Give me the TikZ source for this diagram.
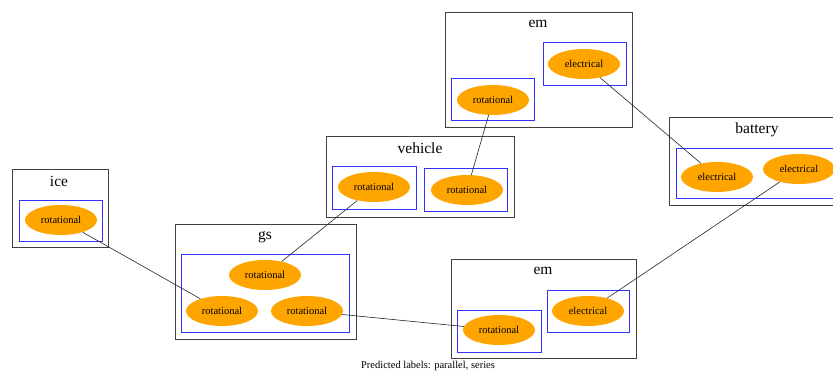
\documentclass[tikz,border=0pt]{standalone}
\usepackage{fontspec}
\setmainfont{Liberation Serif}
\usetikzlibrary{shapes.geometric}
\definecolor{gvorange}{HTML}{FFA500}
\definecolor{gvblue}{HTML}{0000FF}
\begin{document}
\begin{tikzpicture}[x=1pt,y=-1pt,
  outerbox/.style={draw=black!75,line width=0.8pt,rectangle,inner sep=0pt},
  bluebox/.style={draw=gvblue!80,line width=0.7pt,rectangle,inner sep=0pt},
  port/.style={ellipse,fill=gvorange,draw=none,minimum width=72pt,minimum height=30pt,inner sep=0pt,font=\fontsize{10.5}{12}\selectfont},
  clabel/.style={inner sep=0pt,font=\fontsize{15.5}{18}\selectfont},
  conn/.style={draw=black!85,line width=0.6pt}]
\useasboundingbox (0,0) rectangle (833,372);
\clip (0,0) rectangle (833,372);
% ice
\node[outerbox,minimum width=96pt,minimum height=78pt] (iceC) at (60,208) {};
\node[clabel] (iceL) at (59,181) {ice};
\node[bluebox,minimum width=83pt,minimum height=41pt] (iceB) at (60.5,220.5) {};
\node[port] (iceR) at (61,220) {rotational};
% gs
\node[outerbox,minimum width=181pt,minimum height=115pt] (gsC) at (265.5,281.5) {};
\node[clabel] (gsL) at (265,237) {gs};
\node[bluebox,minimum width=168pt,minimum height=78pt] (gsB) at (265,293) {};
\node[port] (gsT) at (265,275) {rotational};
\node[port] (gsBL) at (222,311) {rotational};
\node[port] (gsBR) at (307,311) {rotational};
% vehicle
\node[outerbox,minimum width=188pt,minimum height=81pt] (vehC) at (420,176.5) {};
\node[clabel] (vehL) at (420,148) {vehicle};
\node[bluebox,minimum width=84pt,minimum height=43pt] (vehBL) at (374,187.5) {};
\node[bluebox,minimum width=83pt,minimum height=43pt] (vehBR) at (465.5,189.5) {};
\node[port] (vehRL) at (374,187) {rotational};
\node[port] (vehRR) at (467,190) {rotational};
% em top
\node[outerbox,minimum width=187pt,minimum height=115pt] (emtC) at (538.5,69.5) {};
\node[clabel] (emtL) at (538,24) {em};
\node[bluebox,minimum width=83pt,minimum height=43pt] (emtBR) at (584.5,63.5) {};
\node[bluebox,minimum width=83pt,minimum height=42pt] (emtBL) at (492.5,99) {};
\node[port] (emtE) at (584,64) {electrical};
\node[port] (emtR) at (493,100) {rotational};
% battery
\node[outerbox,minimum width=181pt,minimum height=88pt] (batC) at (759.5,161) {};
\node[clabel] (batL) at (757,130) {battery};
\node[bluebox,minimum width=167pt,minimum height=50pt] (batB) at (759.5,173) {};
\node[port] (batE1) at (717,177) {electrical};
\node[port] (batE2) at (799,169) {electrical};
% em bottom
\node[outerbox,minimum width=185pt,minimum height=99pt] (embC) at (543.5,308.5) {};
\node[clabel] (embL) at (543,271) {em};
\node[bluebox,minimum width=82pt,minimum height=42pt] (embBR) at (588,311) {};
\node[bluebox,minimum width=84pt,minimum height=42pt] (embBL) at (499,331) {};
\node[port] (embE) at (588,311) {electrical};
\node[port] (embR) at (499,330) {rotational};
% connectors
\draw[conn] (iceR) -- (gsBL);
\draw[conn] (gsT) -- (vehRL);
\draw[conn] (vehRR) -- (emtR);
\draw[conn] (emtE) -- (batE1);
\draw[conn] (batE2) -- (embE);
\draw[conn] (gsBR) -- (embR);
% caption
\node[inner sep=0pt,font=\fontsize{10.5}{12}\selectfont] (cap) at (428,366) {Predicted labels: parallel, series};
\end{tikzpicture}
\end{document}
